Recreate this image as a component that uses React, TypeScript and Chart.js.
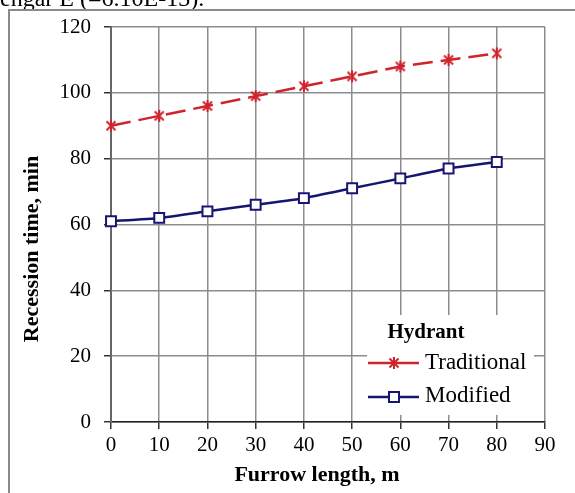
import React, { useEffect, useRef } from "react";
import { Chart, registerables } from "chart.js";

Chart.register(...registerables);

const furrowLength = [0, 10, 20, 30, 40, 50, 60, 70, 80];
const traditional = [90, 93, 96, 99, 102, 105, 108, 110, 112];
const modified = [61, 62, 64, 66, 68, 71, 74, 77, 79];
const seriesNames = ["Traditional", "Modified"];
const legendTitle = "Hydrant";
const xTitle = "Furrow length, m";
const yTitle = "Recession time, min";
const topCaption = "engar E (=6.10E-13).";

const RED = "rgb(208,36,44)";
const NAVY = "rgb(22,22,112)";
const SERIF = '"Liberation Serif", "Times New Roman", serif';

function makeStar(): HTMLCanvasElement {
  const c = document.createElement("canvas");
  c.width = 14;
  c.height = 14;
  const ctx = c.getContext("2d")!;
  ctx.strokeStyle = RED;
  ctx.lineWidth = 2;
  ctx.beginPath();
  ctx.moveTo(2.5, 2.5);
  ctx.lineTo(11.5, 11.5);
  ctx.moveTo(11.5, 2.5);
  ctx.lineTo(2.5, 11.5);
  ctx.moveTo(7, 1);
  ctx.lineTo(7, 13);
  ctx.stroke();
  return c;
}

export default function App() {
  const ref = useRef<HTMLCanvasElement>(null);

  useEffect(() => {
    const star = makeStar();
    const decor = {
      id: "decor",
      afterDatasetsDraw(chart: any) {
        const ctx = chart.ctx;
        ctx.save();
        // caption clipped at the top
        ctx.fillStyle = "#000";
        ctx.font = `24px ${SERIF}`;
        ctx.textAlign = "left";
        ctx.textBaseline = "alphabetic";
        ctx.fillText(topCaption, 0, 6);
        // frame
        ctx.strokeStyle = "#8a8a8a";
        ctx.lineWidth = 2;
        ctx.beginPath();
        ctx.moveTo(9, 493);
        ctx.lineTo(9, 10);
        ctx.lineTo(575, 10);
        ctx.stroke();
        // legend
        ctx.fillStyle = "#fff";
        ctx.fillRect(367, 315, 167, 100);
        ctx.fillStyle = "#000";
        ctx.font = `bold 21px ${SERIF}`;
        ctx.textAlign = "center";
        ctx.textBaseline = "middle";
        ctx.fillText(legendTitle, 426, 333);
        ctx.font = `23px ${SERIF}`;
        ctx.textAlign = "left";
        ctx.fillText(seriesNames[0], 425, 363);
        ctx.fillText(seriesNames[1], 425, 396);
        ctx.lineWidth = 2.5;
        ctx.strokeStyle = RED;
        ctx.beginPath();
        ctx.moveTo(368, 363);
        ctx.lineTo(419, 363);
        ctx.stroke();
        ctx.drawImage(star, 387, 356);
        ctx.strokeStyle = NAVY;
        ctx.beginPath();
        ctx.moveTo(368, 397);
        ctx.lineTo(419, 397);
        ctx.stroke();
        ctx.fillStyle = "#fff";
        ctx.lineWidth = 2;
        ctx.fillRect(389, 392, 10, 10);
        ctx.strokeRect(389, 392, 10, 10);
        // axis titles
        ctx.fillStyle = "#000";
        ctx.font = `bold 22px ${SERIF}`;
        ctx.textAlign = "center";
        ctx.textBaseline = "middle";
        ctx.fillText(xTitle, 317, 475);
        ctx.translate(32, 249);
        ctx.rotate(-Math.PI / 2);
        ctx.fillText(yTitle, 0, 0);
        ctx.restore();
      },
    };

    const chart = new Chart(ref.current!, {
      type: "line",
      data: {
        datasets: [
          {
            label: seriesNames[0],
            data: furrowLength.map((x, i) => ({ x, y: traditional[i] })),
            borderColor: RED,
            backgroundColor: RED,
            borderWidth: 2.5,
            borderDash: [20, 8],
            pointStyle: star,
            pointRadius: 7,
            tension: 0,
            clip: false as any,
          },
          {
            label: seriesNames[1],
            data: furrowLength.map((x, i) => ({ x, y: modified[i] })),
            borderColor: NAVY,
            backgroundColor: "#fff",
            borderWidth: 2.5,
            pointStyle: "rect",
            pointRadius: 7,
            pointBorderWidth: 2,
            pointBorderColor: NAVY,
            pointBackgroundColor: "#fff",
            tension: 0.15,
            clip: false as any,
          },
        ],
      },
      options: {
        responsive: false,
        animation: false,
        events: [],
        layout: { padding: { top: 27, right: 30, left: 0, bottom: 0 } },
        plugins: {
          legend: { display: false },
          tooltip: { enabled: false },
        },
        scales: {
          x: {
            type: "linear",
            min: 0,
            max: 90,
            afterFit: (s: any) => {
              s.height = 71;
            },
            ticks: {
              stepSize: 10,
              color: "#000",
              padding: 4,
              font: { family: SERIF, size: 21 },
            },
            grid: {
              color: "#8c8c8c",
              lineWidth: 1.5,
              tickLength: 7,
              tickColor: "#333",
            },
            border: { color: "#222", width: 1.5 },
          },
          y: {
            min: 0,
            max: 120,
            afterFit: (s: any) => {
              s.width = 111;
            },
            ticks: {
              stepSize: 20,
              color: "#000",
              padding: 13,
              font: { family: SERIF, size: 21 },
            },
            grid: {
              color: "#8c8c8c",
              lineWidth: 1.5,
              tickLength: 7,
              tickColor: "#333",
            },
            border: { color: "#666", width: 2 },
          },
        },
      },
      plugins: [decor],
    });
    return () => chart.destroy();
  }, []);

  return (
    <div style={{ position: "absolute", left: 0, top: 0, width: 575, height: 493, background: "#fff" }}>
      <canvas ref={ref} width={575} height={493} style={{ display: "block" }} />
    </div>
  );
}
